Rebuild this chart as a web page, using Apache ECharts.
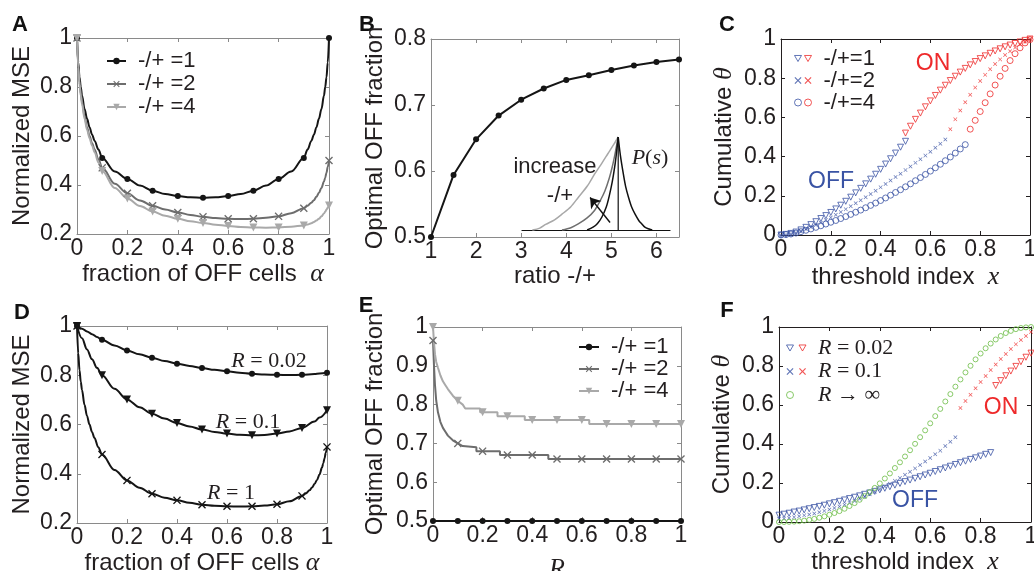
<!DOCTYPE html>
<html><head><meta charset="utf-8">
<script src="https://cdn.jsdelivr.net/npm/echarts/dist/echarts.min.js"></script>
<style>html,body{margin:0;padding:0;background:#fff}#c{width:1034px;height:571px}</style>
</head><body><div id="c"></div><script>
// ---------------- DATA ----------------
const markerAlpha = [0,0.1,0.2,0.3,0.4,0.5,0.6,0.7,0.8,0.9,1];
// Panel A
const aAlpha = [0,0.005,0.01,0.015,0.02,0.03,0.04,0.05,0.06,0.07,0.085,0.1,0.15,0.2,0.25,0.3,0.35,0.4,0.45,0.5,0.55,0.6,0.65,0.7,0.75,0.8,0.85,0.9,0.915,0.93,0.94,0.95,0.96,0.97,0.98,0.985,0.99,0.995,1];
const aMse1 = [1,.9,.84,.8,.765,.71,.67,.635,.605,.58,.545,.51,.455,.425,.398,.377,.363,.355,.35,.348,.35,.355,.363,.377,.398,.425,.455,.51,.545,.58,.605,.635,.67,.71,.765,.8,.84,.9,1];
const aMse2 = [1,.89,.82,.775,.74,.68,.635,.6,.57,.545,.505,.47,.405,.366,.337,.315,.3,.288,.278,.27,.265,.262,.261,.262,.266,.272,.285,.305,.315,.328,.338,.352,.368,.388,.414,.43,.45,.474,.5];
const aMse4 = [1,.88,.81,.765,.73,.67,.625,.59,.56,.533,.492,.457,.388,.345,.314,.292,.275,.262,.252,.245,.238,.233,.229,.227,.226,.227,.23,.235,.239,.244,.249,.255,.262,.272,.284,.291,.3,.308,.316];
// Panel B
const bRatio = [1,1.5,2,2.5,3,3.5,4,4.5,5,5.5,6,6.5];
const bFrac = [.5,.594,.648,.684,.708,.725,.738,.745,.753,.76,.765,.769];
// Panel B inset (arbitrary inset units)
const insKLeftX = [44,48,51,54,57,59,61,63,64,65];
const insKLeftY = [0,.03,.07,.14,.25,.37,.52,.72,.85,1];
const insKRightX = [65,66.5,68.5,70,72,74,76.4,79,81,83,86,88];
const insKRightY = [1,.8,.6,.47,.35,.25,.17,.1,.065,.03,.01,0];
const insDX = [27,33,38,44,49,53,56,59,61,63,65];
const insDY = [0,.025,.065,.13,.21,.32,.42,.56,.68,.83,1];
const insLX = [7,12,16,22,27,33,38,44,49,54,58,62,65];
const insLY = [0,.02,.06,.11,.17,.25,.35,.47,.6,.72,.82,.92,1];
const insPeakX = [65,65];
const insPeakY = [0,1];
const insArrow = [[59.5,0.08],[46,0.35]];
// Panels C, F sampling of threshold index
const gridX = [0,0.02,0.04,0.06,0.08,0.1,0.12,0.14,0.16,0.18,0.2,0.22,0.24,0.26,0.28,0.3,0.32,0.34,0.36,0.38,0.4,0.42,0.44,0.46,0.48,0.5,0.52,0.54,0.56,0.58,0.6,0.62,0.64,0.66,0.68,0.7,0.72,0.74,0.76,0.78,0.8,0.82,0.84,0.86,0.88,0.9,0.92,0.94,0.96,0.98,1];
// Panel C
const c1Off = [0,.003,.008,.015,.026,.039,.053,.068,.084,.099,.115,.133,.152,.172,.193,.215,.238,.261,.285,.31,.335,.362,.389,.418,.448,.478];
const c1On = [.52,.555,.59,.622,.654,.684,.712,.739,.764,.788,.81,.831,.85,.868,.885,.9,.914,.927,.939,.95,.96,.969,.977,.985,.993,1];
const c2Off = [0,.002,.006,.012,.02,.03,.04,.051,.063,.076,.089,.103,.117,.132,.147,.162,.177,.193,.209,.226,.243,.26,.278,.296,.313,.331,.349,.368,.386,.405,.425,.445,.466,.487];
const c2On = [.54,.59,.635,.677,.716,.752,.786,.817,.846,.872,.896,.918,.938,.956,.972,.987,1];
const c4Off = [0,.002,.005,.01,.017,.024,.031,.039,.047,.056,.065,.074,.084,.094,.105,.116,.127,.139,.151,.163,.176,.189,.203,.217,.231,.246,.261,.277,.293,.309,.326,.343,.361,.379,.398,.418,.439,.461];
const c4On = [.54,.585,.63,.675,.72,.765,.81,.85,.89,.925,.955,.98,.997];
// Panel D
const dAlpha = [0,.02,.04,.06,.08,.1,.15,.2,.25,.3,.35,.4,.45,.5,.55,.6,.65,.7,.75,.8,.85,.9,.95,.97,1];
const dMse002 = [1,.989,.978,.967,.955,.944,.921,.901,.885,.871,.858,.847,.838,.829,.822,.816,.81,.806,.803,.802,.801,.802,.805,.807,.81];
const dMse01 = [1,.95,.905,.865,.83,.8,.745,.702,.67,.644,.624,.606,.592,.58,.57,.563,.558,.556,.557,.563,.572,.586,.612,.628,.658];
const dMse1 = [1,.89,.82,.775,.74,.68,.635,.6,.57,.545,.508,.478,.415,.373,.343,.319,.303,.292,.282,.274,.27,.268,.267,.268,.271,.276,.288,.31,.32,.333,.344,.358,.375,.397,.425,.442,.462,.485,.509];
// Panel E
const eR1 = [0,0.1,0.2,0.3,0.4,0.5,0.6,0.7,0.8,0.9,1];
const eFrac1 = [.5,.5,.5,.5,.5,.5,.5,.5,.5,.5,.5];
const eR2 = [0,.004,.008,.013,.02,.03,.04,.05,.06,.08,.1,.12,.125,.175,.175,.2,.27,.27,.3,.4,.465,.465,.5,.6,.7,.8,.9,1];
const eFrac2 = [.965,.9,.85,.81,.78,.755,.74,.73,.72,.708,.7,.693,.69,.69,.68,.68,.68,.67,.67,.67,.67,.66,.66,.66,.66,.66,.66,.66];
const eR4 = [0,.004,.008,.013,.02,.03,.04,.05,.06,.08,.1,.12,.13,.19,.19,.2,.26,.26,.3,.37,.37,.4,.5,.6,.63,.63,.7,.8,.9,1];
const eFrac4 = [1,.96,.93,.91,.895,.875,.86,.85,.84,.823,.81,.8,.79,.79,.78,.78,.78,.77,.77,.77,.76,.76,.76,.76,.76,.75,.75,.75,.75,.75];
// Panel F
const f02Off = [.035,.04,.045,.051,.056,.062,.068,.074,.08,.086,.093,.099,.106,.113,.12,.127,.134,.142,.149,.157,.165,.173,.181,.189,.198,.207,.215,.224,.232,.241,.25,.259,.268,.277,.286,.295,.304,.312,.321,.329,.338,.347,.356];
const f02On = [.7,.725,.75,.774,.798,.822,.845,.866];
const f01Off = [.015,.018,.021,.025,.029,.034,.039,.044,.05,.057,.064,.072,.08,.089,.098,.108,.119,.13,.142,.155,.168,.182,.196,.211,.226,.242,.258,.275,.292,.31,.328,.347,.366,.39,.412,.435];
const f01On = [.585,.62,.653,.686,.718,.749,.779,.808,.836,.862,.887,.911,.933,.954,.974];
const fInf = [0,0,.001,.002,.004,.007,.011,.016,.022,.029,.037,.046,.056,.068,.082,.097,.114,.133,.153,.175,.198,.223,.249,.277,.306,.336,.368,.401,.435,.47,.506,.543,.58,.618,.656,.694,.731,.767,.801,.834,.864,.891,.915,.936,.954,.969,.98,.989,.995,.998,1];
// tick settings
const ticks01 = [0, 1, 0.2];
const ticksMse = [0.2, 1, 0.2];

// ---------------- STYLE ----------------
const FONT = "'Liberation Sans', Arial, Helvetica, sans-serif";
const SERIF = "'Liberation Serif', 'Times New Roman', serif";
const INK = '#231f20';
const GRAYAX = '#8a8a8a';
const BLUE = '#3953a4', RED = '#ee2a2b', GREEN = '#6cbd45';
const BLACK = '#151515', DGRAY = '#6d6d6d', LGRAY = '#a9a9a9';
const TRI_DOWN = 'path://M0,0L10,0L5,8.66Z';
const CROSS = 'path://M0,1.2L1.2,0L5,3.8L8.8,0L10,1.2L6.2,5L10,8.8L8.8,10L5,6.2L1.2,10L0,8.8L3.8,5Z';
const HOLLOW = c => ({color:'rgba(0,0,0,0)', borderColor:c, borderWidth:1});
const NAME_RICH = { m: {fontFamily: SERIF, fontStyle: 'italic', fontSize: 26, color: INK} };

const grids = [
  {left:77, top:38, width:252, height:196},
  {left:431, top:39, width:248, height:198},
  {left:781, top:39, width:249, height:196},
  {left:77, top:326, width:250, height:197},
  {left:433, top:327, width:248, height:194},
  {left:779, top:327, width:252, height:195},
  {left:522, top:137, width:148, height:93}
];

const xAxes = [], yAxes = [];
function addPanel(g, c) {
  const ls = {color: c.axisColor, width: 1};
  const tick = {show: true, inside: true, length: 4, lineStyle: ls};
  const lab = {margin: 3, fontSize: 23, fontFamily: FONT, color: INK};
  const nts = {fontSize: 24, fontFamily: FONT, color: INK, rich: NAME_RICH};
  xAxes.push({gridIndex: g, type: 'value', position: 'bottom', min: c.x[0], max: c.x[1], interval: c.x[2],
    axisLine: {show: true, onZero: false, lineStyle: ls}, axisTick: tick, splitLine: {show: false},
    axisLabel: Object.assign({}, lab, {showMaxLabel: c.showMaxX !== false}),
    name: c.xname, nameLocation: 'middle', nameGap: c.xgap, nameTextStyle: nts});
  xAxes.push({gridIndex: g, type: 'value', position: 'top', min: c.x[0], max: c.x[1], interval: c.x[2],
    axisLine: {show: true, onZero: false, lineStyle: ls}, axisTick: tick, splitLine: {show: false}, axisLabel: {show: false}});
  yAxes.push({gridIndex: g, type: 'value', position: 'left', min: c.y[0], max: c.y[1], interval: c.y[2],
    axisLine: {show: true, onZero: false, lineStyle: ls}, axisTick: tick, splitLine: {show: false},
    axisLabel: Object.assign({}, lab, {margin: 5}),
    name: c.yname, nameLocation: 'middle', nameGap: c.ygap, nameRotate: 90, nameTextStyle: nts});
  yAxes.push({gridIndex: g, type: 'value', position: 'right', min: c.y[0], max: c.y[1], interval: c.y[2],
    axisLine: {show: true, onZero: false, lineStyle: ls}, axisTick: tick, splitLine: {show: false}, axisLabel: {show: false}});
}
addPanel(0, {x: ticks01, y: ticksMse, axisColor: GRAYAX, xname: 'fraction of OFF cells  {m|α}', xgap: 22, yname: 'Normalized MSE', ygap: 43});
addPanel(1, {x: [1, 6.5, 1], y: [0.5, 0.8, 0.1], showMaxX: false, axisColor: GRAYAX, xname: 'ratio -/+', xgap: 22, yname: 'Optimal OFF fraction', ygap: 44});
addPanel(2, {x: ticks01, y: ticks01, axisColor: INK, xname: 'threshold index  {m|x}', xgap: 29, yname: 'Cumulative {m|θ}', ygap: 44});
addPanel(3, {x: ticks01, y: ticksMse, axisColor: GRAYAX, xname: 'fraction of OFF cells {m|α}', xgap: 26, yname: 'Normalized MSE', ygap: 43});
addPanel(4, {x: ticks01, y: [0.5, 1, 0.1], axisColor: GRAYAX, xname: '{m|R}', xgap: 35, yname: 'Optimal OFF fraction', ygap: 46});
addPanel(5, {x: ticks01, y: ticks01, axisColor: INK, xname: 'threshold index  {m|x}', xgap: 27, yname: 'Cumulative {m|θ}', ygap: 44});
// inset axes (index 12)
xAxes.push({gridIndex: 6, type: 'value', min: 0, max: 100, axisLine: {show: true, onZero: false, lineStyle: {color: '#111', width: 1.2}},
  axisTick: {show: false}, axisLabel: {show: false}, splitLine: {show: false}});
yAxes.push({gridIndex: 6, type: 'value', min: 0, max: 1, show: false});

function isMarker(x, list) { return list.some(m => Math.abs(m - x) < 1e-9); }
function lineSeries(name, g, xs, ys, color, symbol, size, markers, extra) {
  return Object.assign({
    type: 'line', name, xAxisIndex: 2 * g, yAxisIndex: 2 * g, clip: false,
    data: xs.map((x, i) => (!markers || isMarker(x, markers)) ? [x, ys[i]] : {value: [x, ys[i]], symbol: 'none'}),
    symbol, symbolSize: size, showSymbol: true, lineStyle: {color, width: 2}, itemStyle: {color}
  }, extra || {});
}
function scatterSeries(name, g, xs, ys, symbol, size, itemStyle) {
  return {type: 'scatter', name, xAxisIndex: 2 * g, yAxisIndex: 2 * g, clip: false,
    data: xs.map((x, i) => [x, ys[i]]), symbol, symbolSize: size, itemStyle};
}
function insetLine(name, xs, ys, color, extra) {
  return Object.assign({type: 'line', name, xAxisIndex: 12, yAxisIndex: 12, clip: false, symbol: 'none', smooth: 0.3,
    data: xs.map((x, i) => [x, ys[i]]), lineStyle: {color, width: 1.5}}, extra || {});
}
const SM = {smooth: 0.35, smoothMonotone: 'x'};

const series = [
  // A
  lineSeries('A1', 0, aAlpha, aMse1, BLACK, 'circle', 6, markerAlpha, SM),
  lineSeries('A2', 0, aAlpha, aMse2, DGRAY, CROSS, 8, markerAlpha, SM),
  lineSeries('A4', 0, aAlpha, aMse4, LGRAY, TRI_DOWN, 8, markerAlpha, SM),
  // B
  lineSeries('B', 1, bRatio, bFrac, BLACK, 'circle', 6, null),
  insetLine('iL', insLX, insLY, '#a8a8a8'),
  insetLine('iD', insDX, insDY, '#6f6f6f'),
  insetLine('iKL', insKLeftX, insKLeftY, '#111'),
  insetLine('iKR', insKRightX, insKRightY, '#111'),
  insetLine('iP', insPeakX, insPeakY, '#111', {smooth: false, lineStyle: {color: '#111', width: 1.2}}),
  {type: 'lines', name: 'arrow', coordinateSystem: 'cartesian2d', xAxisIndex: 12, yAxisIndex: 12, silent: true,
    symbol: ['none', 'arrow'], symbolSize: 10, lineStyle: {color: '#111', width: 1.4, opacity: 1, curveness: 0},
    data: [{coords: insArrow}], z: 5},
  // C
  scatterSeries('c4off', 2, gridX.slice(0, 38), c4Off, 'circle', 6, HOLLOW(BLUE)),
  scatterSeries('c4on', 2, gridX.slice(38, 51), c4On, 'circle', 6, HOLLOW(RED)),
  scatterSeries('c2off', 2, gridX.slice(0, 34), c2Off, CROSS, 4, {color: BLUE}),
  scatterSeries('c2on', 2, gridX.slice(34, 51), c2On, CROSS, 4, {color: RED}),
  scatterSeries('c1off', 2, gridX.slice(0, 26), c1Off, TRI_DOWN, 6, HOLLOW(BLUE)),
  scatterSeries('c1on', 2, gridX.slice(25, 51), c1On, TRI_DOWN, 6, HOLLOW(RED)),
  // D
  lineSeries('D002', 3, dAlpha, dMse002, BLACK, 'circle', 6, markerAlpha, SM),
  lineSeries('D01', 3, dAlpha, dMse01, BLACK, TRI_DOWN, 8, markerAlpha, SM),
  lineSeries('D1', 3, aAlpha, dMse1, BLACK, CROSS, 8, markerAlpha, SM),
  // E
  lineSeries('E1', 4, eR1, eFrac1, BLACK, 'circle', 6, markerAlpha),
  lineSeries('E2', 4, eR2, eFrac2, DGRAY, CROSS, 8, markerAlpha),
  lineSeries('E4', 4, eR4, eFrac4, LGRAY, TRI_DOWN, 8, markerAlpha),
  // F
  scatterSeries('f02off', 5, gridX.slice(0, 43), f02Off, TRI_DOWN, 6, HOLLOW(BLUE)),
  scatterSeries('f02on', 5, gridX.slice(43, 51), f02On, TRI_DOWN, 6, HOLLOW(RED)),
  scatterSeries('f01off', 5, gridX.slice(0, 36), f01Off, CROSS, 4, {color: BLUE}),
  scatterSeries('f01on', 5, gridX.slice(36, 51), f01On, CROSS, 4, {color: RED}),
  scatterSeries('fInf', 5, gridX, fInf, 'circle', 5, HOLLOW(GREEN))
];

const LBL = {A1: '-/+ =1', A2: '-/+ =2', A4: '-/+ =4', E1: '-/+ =1', E2: '-/+ =2', E4: '-/+ =4',
  c1on: '-/+=1', c2on: '-/+=2', c4on: '-/+=4', c1off: '-/+=1', c2off: '-/+=2', c4off: '-/+=4',
  f02on: '{i|R}{n| = 0.02}', f01on: '{i|R}{n| = 0.1}', fInf: '{i|R}{n| → ∞}',
  f02off: 'R = 0.02', f01off: 'R = 0.1'};
const LEG_TXT = {fontSize: 22, fontFamily: FONT, color: INK, lineHeight: 21, padding: [0, 0, 0, 7]};
function leg(extra) {
  return Object.assign({orient: 'vertical', padding: 0, selectedMode: false, itemGap: 0,
    formatter: n => LBL[n], textStyle: LEG_TXT}, extra);
}
const legends = [
  leg({left: 106, top: 50, itemWidth: 19, itemHeight: 8, itemGap: 1, data: ['A1', 'A2', 'A4']}),
  leg({left: 578, top: 336, itemWidth: 20, itemHeight: 8, itemGap: 0, data: ['E1', 'E2', 'E4']}),
  leg({left: 794, top: 47.5, itemWidth: 7, itemHeight: 7,
    textStyle: Object.assign({}, LEG_TXT, {color: 'rgba(0,0,0,0)'}),
    data: [{name: 'c1off', icon: TRI_DOWN, itemStyle: HOLLOW(BLUE)}, {name: 'c2off', icon: CROSS, itemStyle: {color: BLUE}},
           {name: 'c4off', icon: 'circle', itemStyle: HOLLOW(BLUE)}]}),
  leg({left: 804, top: 47.5, itemWidth: 7, itemHeight: 7,
    data: [{name: 'c1on', icon: TRI_DOWN, itemStyle: HOLLOW(RED)}, {name: 'c2on', icon: CROSS, itemStyle: {color: RED}},
           {name: 'c4on', icon: 'circle', itemStyle: HOLLOW(RED)}]}),
  leg({left: 786, top: 337, itemWidth: 7, itemHeight: 7, itemGap: 1.5,
    textStyle: Object.assign({}, LEG_TXT, {color: 'rgba(0,0,0,0)', fontFamily: SERIF}),
    data: [{name: 'f02off', icon: TRI_DOWN, itemStyle: HOLLOW(BLUE)}, {name: 'f01off', icon: CROSS, itemStyle: {color: BLUE}},
           {name: 'fInf', icon: 'circle', itemStyle: HOLLOW(GREEN)}]}),
  leg({left: 798, top: 337, itemWidth: 7, itemHeight: 7, itemGap: 1.5,
    textStyle: Object.assign({}, LEG_TXT, {rich: {i: {fontFamily: SERIF, fontStyle: 'italic', fontSize: 22, color: INK}, n: {fontFamily: SERIF, fontSize: 22, color: INK}}}),
    data: [{name: 'f02on', icon: TRI_DOWN, itemStyle: HOLLOW(RED)}, {name: 'f01on', icon: CROSS, itemStyle: {color: RED}},
           {name: 'fInf', icon: 'circle', itemStyle: {color: 'rgba(0,0,0,0)', borderColor: 'rgba(0,0,0,0)'}}]})
];

function txt(text, x, y, font, fill, rich) {
  const st = {text, font, fill, textAlign: 'center', textVerticalAlign: 'middle', align: 'center', verticalAlign: 'middle'};
  if (rich) st.rich = rich;
  return {type: 'text', x, y, silent: true, style: st};
}
const LET = 'bold 22px ' + FONT;
const SRICH = {i: {fontFamily: SERIF, fontStyle: 'italic', fontSize: 22, fill: INK, color: INK}, n: {fontFamily: SERIF, fontSize: 22, fill: INK, color: INK}};
const graphics = [
  txt('A', 20, 25, LET, '#111'), txt('B', 367, 25, LET, '#111'), txt('C', 727, 25, LET, '#111'),
  txt('D', 22, 313, LET, '#111'), txt('E', 366, 306, LET, '#111'), txt('F', 727, 311, LET, '#111'),
  txt('ON', 933, 64, '23px ' + FONT, RED), txt('OFF', 831, 182, '23px ' + FONT, BLUE),
  txt('ON', 1001, 408, '23px ' + FONT, RED), txt('OFF', 915, 501, '23px ' + FONT, BLUE),
  txt('increase', 555, 167, '22px ' + FONT, INK), txt('-/+', 560, 196, '22px ' + FONT, INK),
  txt('{i|P}{n|(}{i|s}{n|)}', 650, 158, '22px ' + SERIF, INK, SRICH),
  txt('{i|R}{n| = 0.02}', 269, 361, '21px ' + SERIF, INK, SRICH),
  txt('{i|R}{n| = 0.1}', 248, 422, '21px ' + SERIF, INK, SRICH),
  txt('{i|R}{n| = 1}', 231, 493, '21px ' + SERIF, INK, SRICH)
];

const chart = echarts.init(document.getElementById('c'), null, {renderer: 'canvas'});
chart.setOption({
  animation: false,
  backgroundColor: '#fff',
  grid: grids.map(g => Object.assign({containLabel: false, outerBoundsMode: 'none'}, g)),
  xAxis: xAxes, yAxis: yAxes,
  legend: legends,
  series: series,
  graphic: graphics
});
</script></body></html>
